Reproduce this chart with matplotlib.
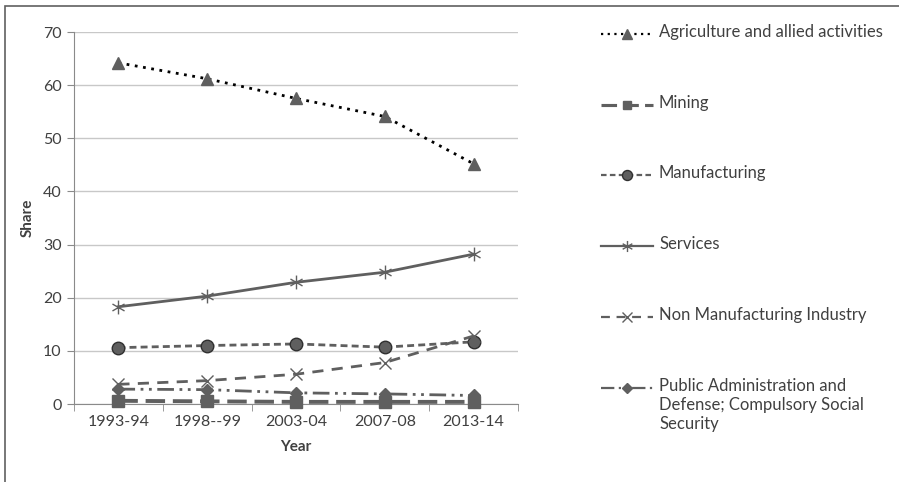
import matplotlib
matplotlib.use("Agg")
import matplotlib.pyplot as plt
import numpy as np
from matplotlib.lines import Line2D
from matplotlib.path import Path
from matplotlib.patches import Rectangle

years = ["1993-94", "1998--99", "2003-04", "2007-08", "2013-14"]
agriculture = [64.2, 61.2, 57.5, 54.1, 45.2]
mining = [0.6, 0.5, 0.4, 0.4, 0.4]
manufacturing = [10.6, 11.0, 11.3, 10.7, 11.7]
services = [18.3, 20.3, 22.9, 24.8, 28.2]
non_manufacturing = [3.7, 4.4, 5.6, 7.8, 12.8]
public_admin = [2.8, 2.7, 2.1, 1.9, 1.6]

labels = ["Agriculture and allied activities", "Mining", "Manufacturing", "Services",
          "Non Manufacturing Industry",
          "Public Administration and\nDefense; Compulsory Social\nSecurity"]

plt.rcParams['font.family'] = ['Lato', 'DejaVu Sans']
szary = '#5f5f5f'
tekst = '#404040'

# gwiazdka jak w Excelu: pionowa kreska + dwie ukosne
gwiazdka = Path([(0, -1), (0, 1), (-0.87, -0.5), (0.87, 0.5), (-0.87, 0.5), (0.87, -0.5)],
                [Path.MOVETO, Path.LINETO, Path.MOVETO, Path.LINETO, Path.MOVETO, Path.LINETO])

style = [
    dict(color='black', linestyle=(0, (1, 2)), linewidth=2, marker='^', markersize=9,
         markerfacecolor=szary, markeredgecolor=szary),
    dict(color=szary, linestyle=(0, (5, 2)), linewidth=2.8, marker='s', markersize=8,
         markerfacecolor=szary, markeredgecolor=szary),
    dict(color=szary, linestyle=(0, (2.5, 1.5)), linewidth=2, marker='o', markersize=9,
         markerfacecolor=szary, markeredgecolor='#303030'),
    dict(color=szary, linestyle='-', linewidth=2, marker=gwiazdka, markersize=10,
         markerfacecolor='none', markeredgecolor=szary, markeredgewidth=1),
    dict(color=szary, linestyle=(0, (4, 3)), linewidth=2, marker='x', markersize=9,
         markeredgecolor=szary, markeredgewidth=1),
    dict(color=szary, linestyle=(0, (6, 2, 1, 2, 1, 2)), linewidth=2, marker='D', markersize=6,
         markerfacecolor=szary, markeredgecolor=szary),
]
serie = [agriculture, mining, manufacturing, services, non_manufacturing, public_admin]

fig = plt.figure(figsize=(8.99, 4.82), dpi=100)
# ramka wokol calego wykresu (dolna i prawa krawedz poza obrazkiem)
fig.patches.append(Rectangle((5 / 899, -0.02), 1.0, 1.008, transform=fig.transFigure,
                             fill=False, edgecolor='#606060', linewidth=1.2, clip_on=False))
ax = fig.add_axes([74 / 899, 78 / 482, 444 / 899, 372 / 482])

x = np.arange(len(years))
for dane, st in zip(serie, style):
    ax.plot(x, dane, clip_on=False, zorder=3, **st)

ax.set_xlim(-0.5, len(years) - 0.5)
ax.set_ylim(0, 70)
ax.set_yticks(range(0, 71, 10))
ax.set_xticks(x)
ax.set_xticklabels(years)
ax.set_xticks(np.arange(-0.5, len(years)), minor=True)
ax.tick_params(axis='x', which='major', length=0, pad=8, labelsize=11.5, labelcolor=tekst)
ax.tick_params(axis='x', which='minor', length=5, color='#8a8a8a')
ax.tick_params(axis='y', length=5, color='#8a8a8a', labelsize=11.5, labelcolor=tekst, pad=4)
ax.yaxis.grid(True, color='#c8c8c8', linewidth=1)
ax.set_axisbelow(True)
for s in ['top', 'right']:
    ax.spines[s].set_visible(False)
ax.spines['left'].set_color('#8a8a8a')
ax.spines['bottom'].set_color('#8a8a8a')
ax.set_ylabel("Share", fontsize=11, fontweight='bold', color=tekst, labelpad=6)
ax.set_xlabel("Year", fontsize=11, fontweight='bold', color=tekst, labelpad=8)

# legenda rysowana recznie, zeby opis z kilku linii zaczynal sie na wysokosci znacznika
legenda_y = [34, 105, 175, 246, 317, 388]
for yy, st, lab in zip(legenda_y, style, labels):
    fy = 1 - yy / 482
    fig.add_artist(Line2D([601 / 899, 627 / 899, 653 / 899], [fy, fy, fy], transform=fig.transFigure,
                          markevery=[1], **{**st, 'markersize': st['markersize'] * 0.8,
                                            'linewidth': st['linewidth'] * 0.8}))
    fig.text(659 / 899, fy + 10 / 482, lab, ha='left', va='top', fontsize=12, color=tekst,
             linespacing=1.25)

fig.savefig("out.png", dpi=100)
